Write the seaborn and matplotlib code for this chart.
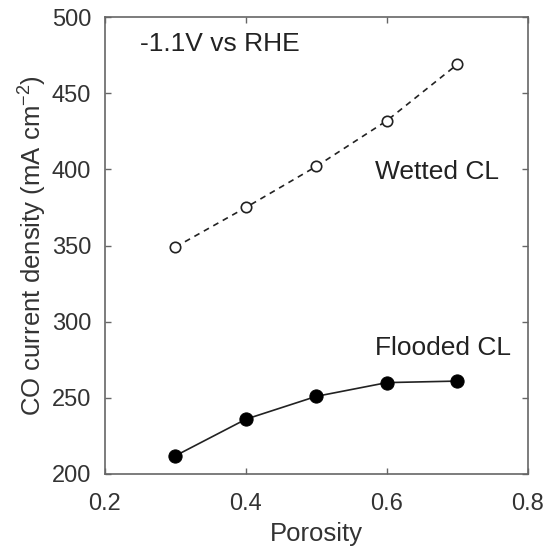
import matplotlib
matplotlib.use("Agg")
import matplotlib.pyplot as plt
import seaborn as sns
import pandas as pd

porosity = [0.3, 0.4, 0.5, 0.6, 0.7]
wetted = [349, 375, 402, 432, 469]
flooded = [212, 236, 251, 260, 261]
xticks = [0.2, 0.4, 0.6, 0.8]
yticks = [200, 250, 300, 350, 400, 450, 500]

sns.set_theme(style="ticks")
plt.rcParams['font.family'] = ['Liberation Sans', 'DejaVu Sans']
plt.rcParams['mathtext.fontset'] = 'custom'
plt.rcParams['mathtext.rm'] = 'Liberation Sans'
plt.rcParams['mathtext.it'] = 'Liberation Sans'

df = pd.DataFrame({"Porosity": porosity, "Wetted": wetted, "Flooded": flooded})

fig = plt.figure(figsize=(5.47, 5.48), dpi=100)
ax = fig.add_axes([105/547, 1-474/548, 423/547, 457/548])

sns.lineplot(data=df, x="Porosity", y="Wetted", ax=ax, color="#222222", linestyle=(0, (3.5, 3)),
             linewidth=1.2, marker="o", markersize=7.5, markerfacecolor="white",
             markeredgecolor="#222222", markeredgewidth=1.2)
sns.lineplot(data=df, x="Porosity", y="Flooded", ax=ax, color="#222222", linestyle="-",
             linewidth=1.2, marker="o", markersize=9.5, markerfacecolor="black",
             markeredgecolor="black")

ax.set_xlim(0.2, 0.8)
ax.set_ylim(200, 500)
ax.set_xticks(xticks)
ax.set_xticklabels(["0.2", "0.4", "0.6", "0.8"])
ax.set_yticks(yticks)
ax.tick_params(direction="in", top=True, right=True, labelsize=17, colors="#666666",
               length=4, width=1)
ax.tick_params(axis='both', labelcolor="#333333")
ax.tick_params(axis='x', pad=14)
ax.tick_params(axis='y', pad=10)
for s in ax.spines.values():
    s.set_color("#666666")
    s.set_linewidth(1.2)
ax.set_xlabel("Porosity", fontsize=18.5, color="#333333", labelpad=5)
ax.set_ylabel("CO current density (mA cm$^{\\mathregular{-2}}$)", fontsize=18.5,
              color="#333333", labelpad=2)

ax.text(0.25, 482, "-1.1V vs RHE", fontsize=19, color="#222222", va="center", ha="left")
ax.text(0.583, 398, "Wetted CL", fontsize=19, color="#222222", va="center", ha="left")
ax.text(0.583, 283, "Flooded CL", fontsize=19, color="#222222", va="center", ha="left")

fig.savefig("out.png", dpi=100)
